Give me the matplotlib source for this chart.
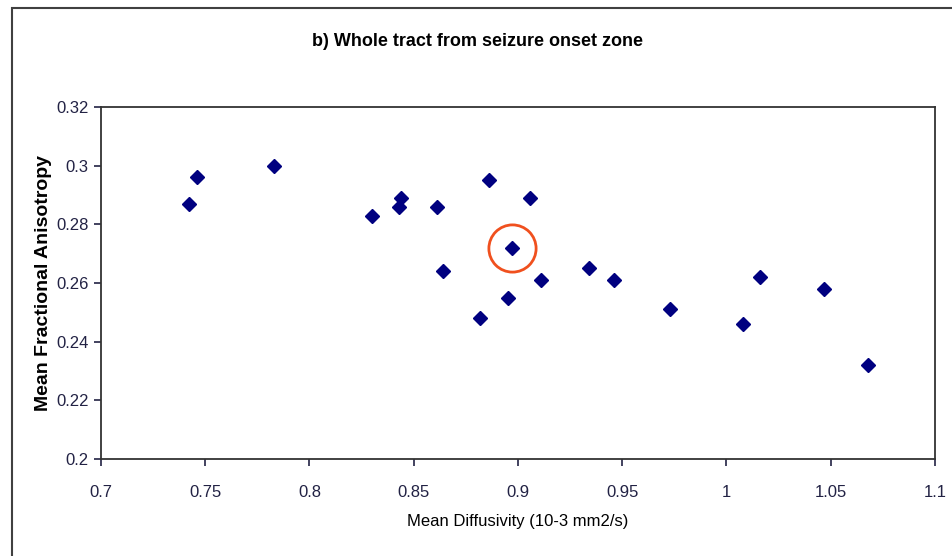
import matplotlib
matplotlib.use('Agg')
import matplotlib.pyplot as plt
from matplotlib.patches import Rectangle

# Mean diffusivity (10-3 mm2/s) and mean FA
md = [0.742, 0.746, 0.783, 0.830, 0.843, 0.844, 0.861, 0.864, 0.886, 0.906,
      0.897, 0.882, 0.895, 0.911, 0.934, 0.946, 0.973, 1.008, 1.016, 1.047, 1.068]
fa = [0.287, 0.296, 0.300, 0.283, 0.286, 0.289, 0.286, 0.264, 0.295, 0.289,
      0.272, 0.248, 0.255, 0.261, 0.265, 0.261, 0.251, 0.246, 0.262, 0.258, 0.232]
highlight = 10  # circled point

x_ticks = [0.7, 0.75, 0.8, 0.85, 0.9, 0.95, 1, 1.05, 1.1]
y_ticks = [0.2, 0.22, 0.24, 0.26, 0.28, 0.3, 0.32]

plt.rcParams['font.family'] = ['Liberation Sans', 'DejaVu Sans']

fig = plt.figure(figsize=(9.52, 5.56), dpi=100)
ax = fig.add_axes([0.1061, 0.1745, 0.876, 0.633])

ax.plot(md, fa, 'D', color='#000080', markersize=7.5, linestyle='none')
ax.plot(md[highlight], fa[highlight], 'o', markersize=34, markerfacecolor='none',
        markeredgecolor='#f0501e', markeredgewidth=2)

ax.set_xlim(0.7, 1.1)
ax.set_ylim(0.2, 0.32)
ax.set_xticks(x_ticks)
ax.set_xticklabels([f'{v:g}' for v in x_ticks])
ax.set_yticks(y_ticks)
ax.set_yticklabels([f'{v:g}' for v in y_ticks])
ax.tick_params(direction='out', length=5, width=1.2, labelsize=12, colors='#222244', pad=14)
ax.tick_params(axis='y', pad=4)
for s in ax.spines.values():
    s.set_linewidth(1.3)
    s.set_color('#333333')

ax.set_xlabel('Mean Diffusivity (10-3 mm2/s)', fontsize=12, labelpad=10)
ax.set_ylabel('Mean Fractional Anisotropy', fontsize=14, fontweight='bold', labelpad=3)
fig.text(0.502, 0.925, 'b) Whole tract from seizure onset zone', ha='center', va='center',
         fontsize=13, fontweight='bold')

# chart border (runs off the right and bottom of the image)
fig.patches.append(Rectangle((0.0126, -0.1), 1.2, 1.0856, transform=fig.transFigure,
                             fill=False, edgecolor='#404040', linewidth=1.5))

fig.savefig('out.png', dpi=100)
